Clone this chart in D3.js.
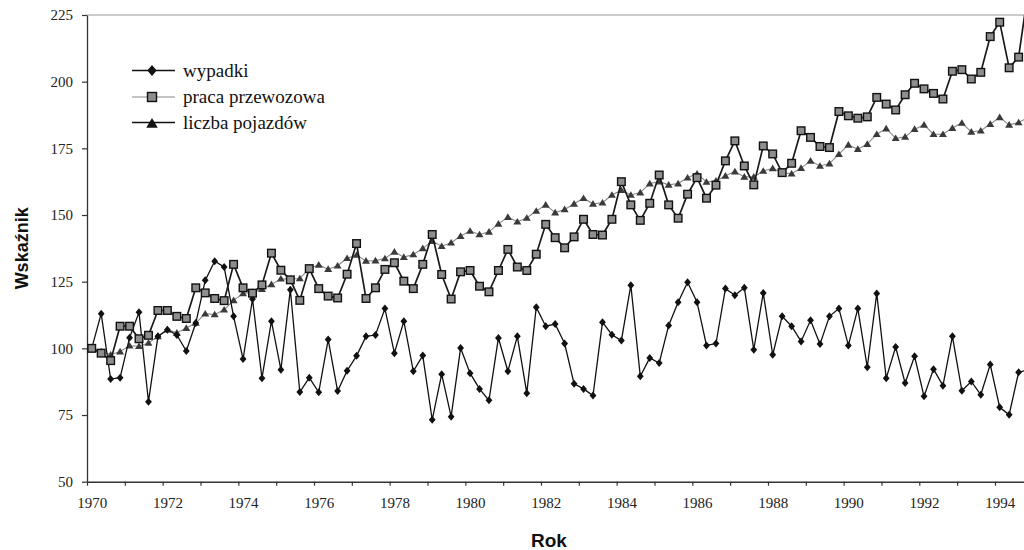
<!DOCTYPE html>
<html>
<head>
<meta charset="utf-8">
<script src="https://cdn.jsdelivr.net/npm/d3@7/dist/d3.min.js"></script>
<style>
  html, body { margin: 0; padding: 0; background: #fff; }
  svg { display: block; }
</style>
</head>
<body>
<script>
// ---- DATA (quarterly index values, 1970 Q1 .. 1994 Q4) ----
const years = d3.range(1970, 1995);
const quarters = ["Q1", "Q2", "Q3", "Q4"];
const categories = years.flatMap(y => quarters.map(q => y + " " + q));

const wypadki = [
  100, 113, 88.5, 89, 104, 113.5, 80, 104.5, 107, 105,
  99, 109.5, 125.5, 132.7, 130.5, 112, 96, 118.5, 88.8, 110.2,
  92, 122, 83.6, 89, 83.5, 103.3, 84, 91.6, 97.2, 104.5,
  105, 114.9, 98.2, 110.2, 91.4, 97.3, 73.2, 90.3, 74.4, 100.1,
  90.7, 84.8, 80.5, 103.9, 91.4, 104.5, 83.2, 115.4, 108.3, 109.1,
  101.8, 86.7, 84.8, 82.3, 109.8, 105.1, 102.9, 123.7, 89.5, 96.4,
  94.5, 108.6, 117.3, 124.8, 117.3, 101.1, 101.8, 122.4, 119.9, 122.7,
  99.5, 120.8, 97.6, 112, 108.3, 102.6, 110.5, 101.6, 112, 114.9,
  101.1, 114.9, 92.9, 120.6, 88.8, 100.5, 87, 97, 82, 92.2,
  86, 104.5, 84.1, 87.6, 82.6, 93.9, 77.9, 75.1, 91, 92
];
const pracaPrzewozowa = [
  100, 98.2, 95.4, 108.3, 108.3, 103.6, 104.9, 114.2, 114.2, 112,
  111.2, 122.7, 120.8, 118.7, 117.9, 131.5, 122.7, 120.7, 123.8, 135.7,
  129.3, 125.7, 118, 129.9, 122.4, 119.6, 118.9, 127.8, 139.3, 118.7,
  122.7, 129.6, 132.1, 125.2, 122.4, 131.5, 142.7, 127.7, 118.5, 128.7,
  129.2, 123.3, 121.2, 129.2, 137.1, 130.5, 129.2, 135.3, 146.5, 141.5,
  137.7, 141.8, 148.4, 142.7, 142.5, 148.4, 162.5, 153.8, 148, 154.4,
  165, 153.8, 148.8, 157.8, 164, 156.3, 161.2, 170.3, 177.8, 168.4,
  161.3, 175.9, 172.9, 165.9, 169.4, 181.6, 179.1, 175.7, 175.3, 188.8,
  187.2, 186.3, 186.8, 194.1, 191.6, 189.4, 195.1, 199.4, 197.3, 195.6,
  193.5, 203.9, 204.5, 201, 203.5, 216.9, 222.3, 205.2, 209.2, 234
];
const liczbaPojazdow = [
  100, 98.8, 97.6, 98.8, 101, 100.8, 102, 104.5, 107, 105.8,
  107.6, 109.5, 113, 112.7, 114.5, 118, 120.6, 121, 122.2, 124,
  126.1, 126, 126.2, 130, 131.3, 129.7, 131, 133.8, 135, 132.8,
  132.9, 133.7, 136.2, 134.2, 135.2, 137.5, 140.2, 138.3, 139.6, 142.1,
  144, 142.7, 143.7, 146.7, 149.2, 147.5, 148.9, 151.5, 153.8, 150.9,
  152.1, 154.2, 156.3, 154.2, 154.6, 157.5, 159.3, 157.5, 158.4, 161.8,
  162.5, 161.3, 161.8, 164, 165.5, 162.4, 162.8, 164.7, 166.3, 164.3,
  164.3, 166.5, 167.5, 165.9, 165.5, 167.6, 170.3, 168.4, 169.3, 172.8,
  176.3, 174.7, 176.6, 180.3, 182.4, 178.8, 179.3, 182.2, 183.8, 180.3,
  180.3, 182.6, 184.5, 181.2, 181.6, 184.1, 186.6, 183.8, 184.7, 186.6
];
const yTicks = [50, 75, 100, 125, 150, 175, 200, 225];
const xLabelYears = [1970, 1972, 1974, 1976, 1978, 1980, 1982, 1984, 1986, 1988, 1990, 1992, 1994];
const seriesNames = ["wypadki", "praca przewozowa", "liczba pojazdów"];
const yTitle = "Wskaźnik";
const xTitle = "Rok";

// ---- LAYOUT ----
const W = 1024, H = 550;
const padL = 87, padT = 15, axisY = 481.7;
const padR = padL + categories.length * 9.458;

const svg = d3.select("body").append("svg").attr("width", W).attr("height", H);
svg.append("rect").attr("width", W).attr("height", H).attr("fill", "#fff");

const x = d3.scaleBand().domain(categories).range([padL, padR]).padding(0);
const xYear = d3.scaleLinear().domain([years[0], years[years.length - 1] + 1]).range([padL, padR]);
const y = d3.scaleLinear().domain([50, 225]).range([axisY, padT]);
const cx = c => x(c) + x.bandwidth() / 2;

svg.append("clipPath").attr("id", "plotclip")
  .append("rect").attr("x", padL).attr("y", padT).attr("width", padR - padL).attr("height", axisY - padT);

// top border
svg.append("line").attr("x1", padL).attr("x2", padR).attr("y1", y(225)).attr("y2", y(225))
  .attr("stroke", "#9a9a9a").attr("stroke-width", 1.2);

// Y axis
const yAxis = svg.append("g").attr("transform", `translate(${padL},0)`)
  .call(d3.axisLeft(y).tickValues(yTicks).tickSize(5).tickPadding(9).tickSizeOuter(0));
yAxis.select(".domain").attr("stroke", "#333").attr("stroke-width", 1.3);
yAxis.selectAll(".tick line").attr("stroke", "#333").attr("stroke-width", 1.2);
yAxis.selectAll("text").attr("font-family", "'Liberation Serif', 'Times New Roman', serif")
  .attr("font-size", 15).attr("fill", "#222");

// X axis (year boundary ticks, labels centered in first quarter of even years)
const xAxis = svg.append("g").attr("transform", `translate(0,${axisY})`)
  .call(d3.axisBottom(xYear).tickValues(d3.range(years[0], years[years.length - 1] + 2))
    .tickSize(4).tickPadding(11.5).tickSizeOuter(0)
    .tickFormat(d => xLabelYears.includes(d) ? String(d) : ""));
xAxis.select(".domain").attr("stroke", "#333").attr("stroke-width", 1.6);
xAxis.selectAll(".tick line").attr("stroke", "#333").attr("stroke-width", 1.2);
xAxis.selectAll("text").attr("font-family", "'Liberation Serif', 'Times New Roman', serif")
  .attr("font-size", 15).attr("fill", "#222").attr("dx", x.bandwidth() / 2);

// axis titles
svg.append("text").attr("transform", `translate(28,${(padT + axisY) / 2}) rotate(-90)`)
  .attr("text-anchor", "middle").attr("font-family", "'Liberation Sans', Arial, sans-serif")
  .attr("font-weight", "bold").attr("font-size", 18).attr("fill", "#111").text(yTitle);
svg.append("text").attr("x", 549).attr("y", 547)
  .attr("text-anchor", "middle").attr("font-family", "'Liberation Sans', Arial, sans-serif")
  .attr("font-weight", "bold").attr("font-size", 19).attr("fill", "#111").text(xTitle);

// ---- SERIES ----
const plot = svg.append("g").attr("clip-path", "url(#plotclip)");
const line = d3.line().x((d, i) => cx(categories[i])).y(d => y(d));

const diamond = (s) => `M0,${-s}L${s * 0.85},0L0,${s}L${-s * 0.85},0Z`;
const triangle = (s) => `M0,${-s}L${s * 1.05},${s * 0.75}L${-s * 1.05},${s * 0.75}Z`;

// liczba pojazdów (triangles, gray line)
plot.append("path").datum(liczbaPojazdow).attr("d", line)
  .attr("fill", "none").attr("stroke", "#8a8a8a").attr("stroke-width", 1.1);
plot.selectAll(".tri").data(liczbaPojazdow).join("path").attr("class", "tri")
  .attr("transform", (d, i) => `translate(${cx(categories[i])},${y(d)})`)
  .attr("d", triangle(3.8)).attr("fill", "#3a3a3a");

// wypadki (diamonds, black line)
plot.append("path").datum(wypadki).attr("d", line)
  .attr("fill", "none").attr("stroke", "#111").attr("stroke-width", 1.3);
plot.selectAll(".dia").data(wypadki).join("path").attr("class", "dia")
  .attr("transform", (d, i) => `translate(${cx(categories[i])},${y(d)})`)
  .attr("d", diamond(4)).attr("fill", "#111");

// praca przewozowa (gray squares, dark line)
plot.append("path").datum(pracaPrzewozowa).attr("d", line)
  .attr("fill", "none").attr("stroke", "#1a1a1a").attr("stroke-width", 1.7);
plot.selectAll(".sq").data(pracaPrzewozowa).join("rect").attr("class", "sq")
  .attr("x", (d, i) => cx(categories[i]) - 3.8).attr("y", d => y(d) - 3.8)
  .attr("width", 7.6).attr("height", 7.6)
  .attr("fill", "#8e8e8e").attr("stroke", "#111").attr("stroke-width", 1.4);

// ---- LEGEND ----
const leg = svg.append("g").attr("transform", "translate(132,0)");
const rows = [70.5, 97, 122.5];
const legFont = "'Liberation Serif', 'Times New Roman', serif";
seriesNames.forEach((name, k) => {
  const g = leg.append("g").attr("transform", `translate(0,${rows[k]})`);
  g.append("line").attr("x1", 0).attr("x2", 43).attr("y1", 0).attr("y2", 0)
    .attr("stroke", k === 1 ? "#8a8a8a" : "#111").attr("stroke-width", k === 1 ? 1.2 : 1.5);
  if (k === 0) g.append("path").attr("transform", "translate(20,0)").attr("d", diamond(5.5)).attr("fill", "#111");
  if (k === 1) g.append("rect").attr("x", 20 - 4.5).attr("y", -4.5).attr("width", 9).attr("height", 9)
    .attr("fill", "#8e8e8e").attr("stroke", "#111").attr("stroke-width", 1.4);
  if (k === 2) g.append("path").attr("transform", "translate(20,1)").attr("d", triangle(5.5)).attr("fill", "#111");
  g.append("text").attr("x", 51).attr("y", 0).attr("dy", "0.32em")
    .attr("font-family", legFont).attr("font-size", 19).attr("fill", "#111").text(name);
});
</script>
</body>
</html>
